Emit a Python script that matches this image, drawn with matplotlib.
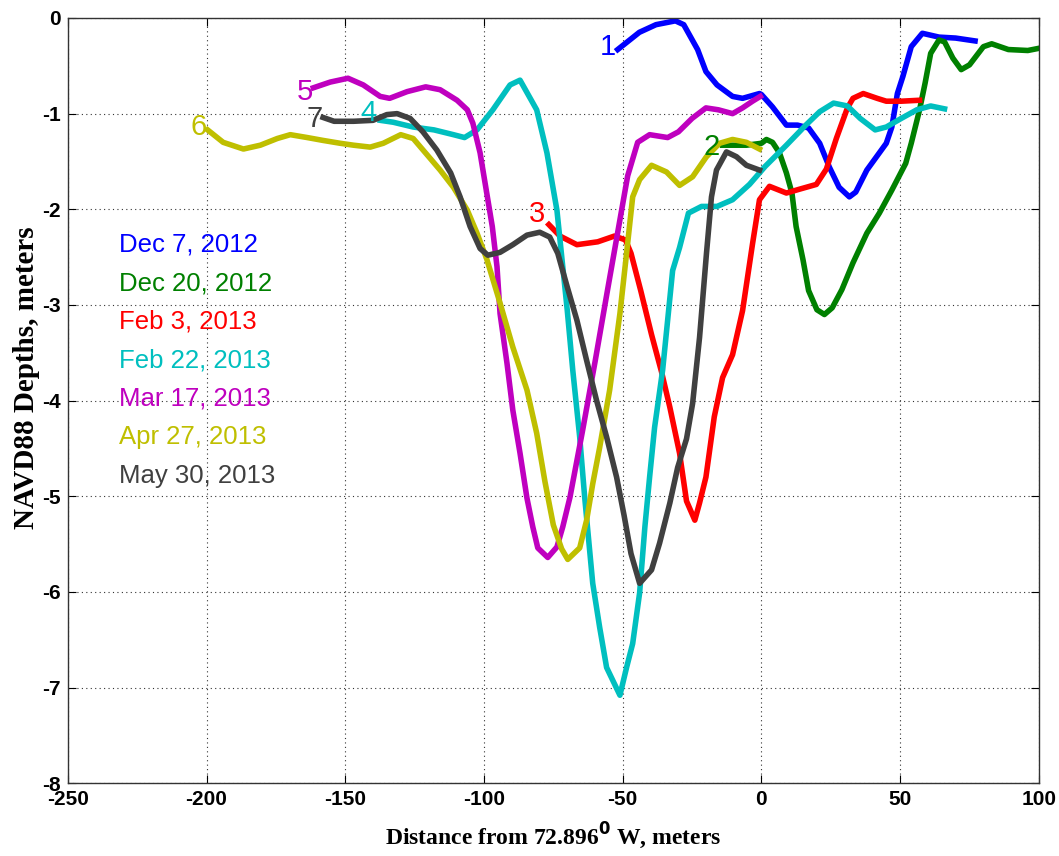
import matplotlib
matplotlib.use('Agg')
import matplotlib.pyplot as plt

plt.rcParams['axes.unicode_minus'] = False

# bathymetry profiles across the inlet, one per survey date
x1 = [-51.8, -44, -38, -31, -28, -23, -20, -16, -10.4, -6.8, -0.7, 0, 4, 9, 13, 17, 21, 24.5, 28, 31.7,
      34, 38, 45, 47, 49, 51, 54, 58, 64, 70, 77]
y1 = [-0.33, -0.15, -0.07, -0.03, -0.07, -0.33, -0.56, -0.70, -0.82, -0.84, -0.79, -0.80, -0.93, -1.12,
      -1.12, -1.15, -1.31, -1.56, -1.77, -1.87, -1.82, -1.59, -1.31, -1.14, -0.79, -0.61, -0.30, -0.16,
      -0.20, -0.21, -0.24]

x2 = [-14, -5.4, 0, 1.8, 4, 6.5, 9, 11, 12.5, 15, 17, 20, 22.7, 25.5, 29, 33, 38, 42.5, 47, 52, 54, 57,
      59, 61, 64, 66, 69, 72, 75, 80, 83, 89, 96, 99.5]
y2 = [-1.33, -1.33, -1.31, -1.27, -1.30, -1.41, -1.62, -1.83, -2.18, -2.53, -2.85, -3.05, -3.10, -3.03,
      -2.84, -2.56, -2.25, -2.04, -1.80, -1.52, -1.31, -0.96, -0.68, -0.37, -0.23, -0.25, -0.42, -0.54,
      -0.49, -0.30, -0.27, -0.33, -0.34, -0.32]

x3 = [-76.6, -72.6, -66.5, -59, -53, -49, -47, -43.5, -39.6, -36, -33, -29.5, -27, -24, -22.3, -20, -17,
      -14, -10.4, -6.8, -3.2, -0.7, 2.9, 9, 13.7, 19.8, 23.4, 27, 31, 33, 36.7, 41.7, 45, 50.4, 57]
y3 = [-2.16, -2.28, -2.37, -2.34, -2.28, -2.32, -2.46, -2.85, -3.31, -3.70, -4.07, -4.55, -5.05, -5.25,
      -5.07, -4.80, -4.17, -3.76, -3.52, -3.06, -2.36, -1.90, -1.76, -1.83, -1.79, -1.74, -1.58, -1.26,
      -0.94, -0.84, -0.79, -0.84, -0.87, -0.87, -0.86]

x4 = [-137.4, -132.7, -125.5, -118, -111, -107, -102.5, -96.8, -90.6, -87, -81, -77.3, -73.7, -70, -68,
      -65.5, -63.7, -60.8, -58.3, -55.8, -51, -48.6, -46.4, -43.9, -42, -40.3, -38.5, -35.6, -32, -29.5,
      -26.3, -21.6, -16, -10.4, -4.3, 1.4, 9, 16, 21, 26, 31, 35.6, 41, 45, 50.4, 56, 61, 66]
y4 = [-1.07, -1.09, -1.14, -1.17, -1.22, -1.25, -1.17, -0.96, -0.70, -0.65, -0.96, -1.41, -2.01, -3.05,
      -3.68, -4.38, -5.01, -5.91, -6.37, -6.79, -7.08, -6.79, -6.54, -6.01, -5.32, -4.80, -4.28, -3.68,
      -2.64, -2.40, -2.04, -1.97, -1.97, -1.90, -1.74, -1.55, -1.33, -1.12, -0.98, -0.89, -0.92, -1.05,
      -1.17, -1.14, -1.05, -0.96, -0.92, -0.95]

x5 = [-161.5, -155.4, -149, -143.5, -137.4, -134, -127.7, -121, -115.8, -109.7, -106, -104, -101.4, -99,
      -97, -95.3, -94.2, -91.7, -89.6, -87, -84.5, -82.4, -80.6, -77, -73.7, -71.6, -69, -64.5, -60,
      -55.5, -51, -48.2, -44.6, -40.3, -33.8, -29.9, -25, -20, -15.5, -10.4, -6.8, -3.2, -0.4]
y5 = [-0.73, -0.67, -0.63, -0.70, -0.82, -0.84, -0.77, -0.72, -0.75, -0.86, -0.96, -1.10, -1.41, -1.83,
      -2.18, -2.60, -3.09, -3.61, -4.10, -4.55, -5.02, -5.32, -5.54, -5.64, -5.53, -5.32, -5.01, -4.32,
      -3.60, -2.85, -2.11, -1.65, -1.30, -1.22, -1.25, -1.19, -1.05, -0.94, -0.96, -1.00, -0.94, -0.87,
      -0.82]

x6 = [-199.6, -194, -186.7, -180.6, -174.5, -169.8, -163.7, -158, -151.8, -147, -141, -136.3, -130,
      -125.5, -120.5, -115.8, -111, -106, -102.5, -99, -94.2, -89.6, -84.5, -81, -78, -75, -72, -69.8,
      -65.5, -63, -60.8, -58.3, -54.7, -51, -48.6, -46.4, -43.9, -39.6, -34.2, -29.5, -24.8, -19.8,
      -15.1, -10.4, -5.4, -0.7]
y6 = [-1.17, -1.30, -1.37, -1.33, -1.26, -1.22, -1.25, -1.28, -1.31, -1.33, -1.35, -1.31, -1.22, -1.26,
      -1.43, -1.59, -1.77, -2.01, -2.25, -2.52, -2.98, -3.44, -3.89, -4.34, -4.85, -5.30, -5.55, -5.66,
      -5.54, -5.25, -4.87, -4.49, -3.89, -3.09, -2.46, -1.87, -1.69, -1.54, -1.61, -1.75, -1.66, -1.45,
      -1.31, -1.27, -1.30, -1.37]

x7 = [-158, -154, -147, -140, -135, -131.3, -126.6, -122, -117, -112, -108.6, -105, -101.4, -98.6, -94.2,
      -89.6, -84.5, -79.9, -76.3, -73.4, -70, -66.5, -63, -59.4, -55.8, -52.2, -49.5, -47, -43.9, -39.6,
      -36.7, -33, -30.2, -27, -24.8, -22.3, -19.8, -18, -16.2, -12.6, -9, -5.4, -0.7]
y7 = [-1.04, -1.08, -1.08, -1.07, -1.01, -1.00, -1.05, -1.19, -1.38, -1.62, -1.87, -2.18, -2.41, -2.48,
      -2.45, -2.37, -2.27, -2.24, -2.29, -2.46, -2.81, -3.16, -3.58, -4.00, -4.38, -4.80, -5.20, -5.60,
      -5.91, -5.77, -5.49, -5.07, -4.70, -4.40, -4.03, -3.34, -2.46, -1.87, -1.59, -1.40, -1.45, -1.54,
      -1.59]

dates = ['Dec 7, 2012', 'Dec 20, 2012', 'Feb 3, 2013', 'Feb 22, 2013',
         'Mar 17, 2013', 'Apr 27, 2013', 'May 30, 2013']
colores = ['#0000ff', '#008000', '#ff0000', '#00bfbf', '#bf00bf', '#bfbf00', '#404040']
perfiles = [(x1, y1), (x2, y2), (x3, y3), (x4, y4), (x5, y5), (x6, y6), (x7, y7)]
# where each profile number sits
etiquetas = [(-55.5, -0.3), (-18, -1.35), (-81, -2.05), (-141.5, -0.99),
             (-164.5, -0.77), (-203, -1.14), (-161, -1.06)]

fig = plt.figure(figsize=(10.59, 8.56), dpi=100)
ax = fig.add_axes([0.064, 0.085, 0.917, 0.894])

for (xs, ys), c in zip(perfiles, colores):
    ax.plot(xs, ys, color=c, linewidth=4.0, solid_joinstyle='round')

for i, ((lx, ly), c) in enumerate(zip(etiquetas, colores)):
    ax.text(lx, ly, str(i + 1), color=c, fontsize=21, ha='center', va='center',
            family='Liberation Sans')

for i, (d, c) in enumerate(zip(dates, colores)):
    ax.text(-231.5, -2.37 - i * 0.403, d, color=c, fontsize=18.5, va='center',
            family='Liberation Sans')

ax.set_xlim(-250, 100)
ax.set_ylim(-8, 0)
ax.set_xticks(range(-250, 101, 50))
ax.set_yticks(range(-8, 1))
ax.grid(True, linestyle=(0, (1, 3)), color='#333333', linewidth=0.8)
ax.tick_params(direction='in', top=True, right=True, length=6, width=0.8, pad=5)
for lab in ax.get_xticklabels() + ax.get_yticklabels():
    lab.set_family('Liberation Sans')
    lab.set_fontweight('bold')
    lab.set_fontsize(15)
for s in ax.spines.values():
    s.set_color('#333333')
    s.set_linewidth(1.0)

ax.set_xlabel('Distance from 72.896$^{\\mathbf{0}}$ W, meters', family='Liberation Serif',
              fontweight='bold', fontsize=17, labelpad=8)
ax.set_ylabel('NAVD88 Depths, meters', family='Liberation Serif', fontweight='bold',
              fontsize=21)
ax.yaxis.set_label_coords(-0.029, 0.53)

fig.savefig('out.png', dpi=100)
